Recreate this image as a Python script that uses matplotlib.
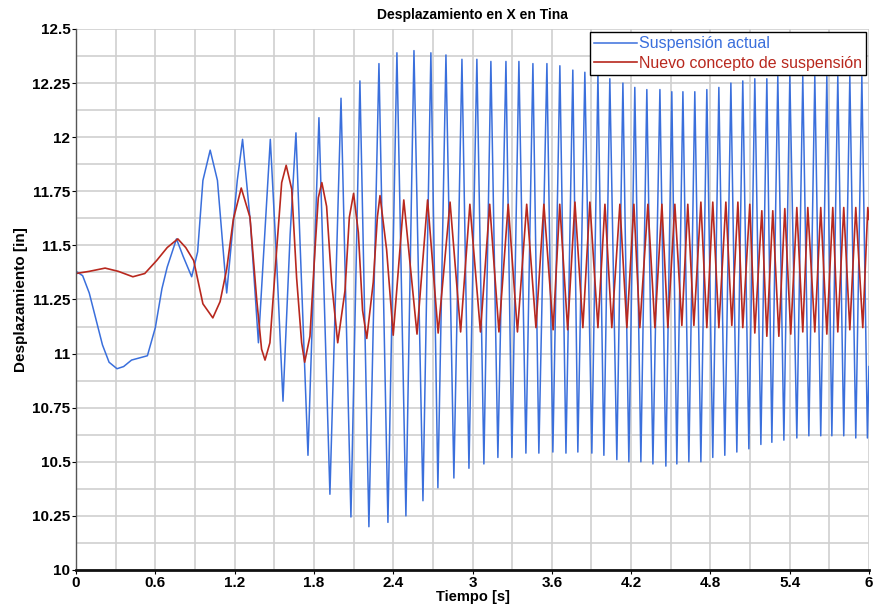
import matplotlib.pyplot as plt
from matplotlib.ticker import MultipleLocator

# Suspensión actual (blue): smooth start, then peaks / troughs
blue_t = [0.00, 0.05, 0.10, 0.15, 0.20, 0.25, 0.31, 0.36, 0.42, 0.48, 0.54, 0.60, 0.65,
          0.69, 0.76, 0.81, 0.875, 0.92, 0.96, 1.015, 1.07, 1.14, 1.22, 1.26, 1.32,
          1.38, 1.47, 1.52, 1.566,
          1.62, 1.664, 1.755, 1.838, 1.921, 2.005, 2.080, 2.148, 2.216, 2.292, 2.360,
          2.428, 2.496, 2.557, 2.625, 2.685, 2.738, 2.799, 2.859, 2.920, 2.973, 3.033,
          3.086, 3.139, 3.192, 3.253, 3.298, 3.351, 3.404, 3.457, 3.502, 3.563, 3.608,
          3.661, 3.707, 3.759, 3.797, 3.850, 3.903, 3.949, 3.994, 4.039, 4.092, 4.138,
          4.183, 4.228, 4.274, 4.319, 4.365, 4.418, 4.463, 4.508, 4.546, 4.592, 4.637,
          4.682, 4.728, 4.773, 4.818, 4.864, 4.909, 4.955, 5.000, 5.045, 5.091, 5.136,
          5.182, 5.227, 5.265, 5.310, 5.356, 5.401, 5.454, 5.499, 5.545, 5.590, 5.635,
          5.681, 5.719, 5.764, 5.809, 5.855, 5.900, 5.946, 5.988, 6.000]
blue_y = [11.38, 11.36, 11.28, 11.16, 11.04, 10.96, 10.93, 10.94, 10.97, 10.98, 10.99, 11.12, 11.30,
          11.40, 11.53, 11.45, 11.355, 11.47, 11.80, 11.94, 11.80, 11.28, 11.80, 11.99, 11.60,
          11.05, 11.99, 11.40, 10.78,
          11.55, 12.02, 10.53, 12.09, 10.35, 12.18, 10.245, 12.26, 10.20, 12.34, 10.22,
          12.39, 10.25, 12.40, 10.32, 12.39, 10.38, 12.38, 10.425, 12.36, 10.47, 12.36,
          10.49, 12.35, 10.52, 12.35, 10.52, 12.35, 10.54, 12.34, 10.54, 12.34, 10.545,
          12.33, 10.54, 12.31, 10.545, 12.30, 10.54, 12.29, 10.53, 12.27, 10.51, 12.25,
          10.50, 12.23, 10.50, 12.22, 10.49, 12.22, 10.48, 12.21, 10.49, 12.21, 10.50,
          12.21, 10.50, 12.22, 10.52, 12.23, 10.53, 12.25, 10.545, 12.26, 10.56, 12.27,
          10.58, 12.27, 10.59, 12.28, 10.60, 12.28, 10.61, 12.28, 10.62, 12.28, 10.62,
          12.28, 10.62, 12.28, 10.62, 12.28, 10.61, 12.28, 10.61, 10.94]

# Nuevo concepto de suspensión (red)
red_t = [0.00, 0.10, 0.22, 0.32, 0.43, 0.52, 0.61, 0.69, 0.77, 0.83, 0.89, 0.96, 1.035,
         1.09, 1.14, 1.19, 1.25, 1.316, 1.367, 1.404, 1.43, 1.467, 1.518, 1.556, 1.59,
         1.632, 1.669, 1.707, 1.73, 1.77, 1.808, 1.833, 1.86, 1.896, 1.934, 1.98,
         2.035, 2.068, 2.10, 2.136, 2.168, 2.20, 2.249, 2.28, 2.30, 2.35, 2.40,
         2.48, 2.58, 2.66, 2.74, 2.83, 2.91,
         2.98, 3.06, 3.13, 3.20, 3.27, 3.34, 3.41, 3.48, 3.54, 3.61, 3.66, 3.72, 3.775,
         3.835, 3.888, 3.949, 4.002, 4.054, 4.115, 4.168, 4.221, 4.266, 4.327, 4.380,
         4.433, 4.478, 4.531, 4.584, 4.629, 4.675, 4.728, 4.773, 4.818, 4.864, 4.917,
         4.962, 5.008, 5.045, 5.098, 5.136, 5.189, 5.227, 5.272, 5.318, 5.363, 5.408,
         5.454, 5.499, 5.537, 5.590, 5.635, 5.681, 5.726, 5.764, 5.809, 5.855, 5.900,
         5.953, 5.991, 6.000]
red_y = [11.37, 11.38, 11.395, 11.38, 11.355, 11.37, 11.43, 11.49, 11.53, 11.49, 11.43, 11.23, 11.165,
         11.24, 11.39, 11.62, 11.765, 11.63, 11.25, 11.02, 10.97, 11.05, 11.48, 11.79, 11.87,
         11.76, 11.35, 11.05, 10.96, 11.08, 11.48, 11.72, 11.79, 11.68, 11.33, 11.05,
         11.29, 11.63, 11.74, 11.56, 11.20, 11.07, 11.33, 11.63, 11.73, 11.48, 11.085,
         11.71, 11.09, 11.71, 11.095, 11.70, 11.10,
         11.69, 11.10, 11.69, 11.10, 11.69, 11.10, 11.69, 11.12, 11.69, 11.11, 11.69, 11.11, 11.70,
         11.12, 11.70, 11.12, 11.69, 11.12, 11.69, 11.12, 11.69, 11.12, 11.69, 11.12,
         11.69, 11.12, 11.69, 11.13, 11.69, 11.13, 11.70, 11.12, 11.70, 11.12, 11.70,
         11.13, 11.70, 11.12, 11.69, 11.095, 11.66, 11.08, 11.66, 11.08, 11.67, 11.09,
         11.675, 11.10, 11.675, 11.10, 11.675, 11.09, 11.675, 11.10, 11.675, 11.11, 11.675,
         11.12, 11.675, 11.62]

labels = ["Suspensión actual", "Nuevo concepto de suspensión"]
colors = ["#3a6fdc", "#b8281e"]


def plot_chart(output_path):
    plt.rcParams['font.family'] = ['Liberation Sans', 'DejaVu Sans']

    fig = plt.figure(figsize=(8.76, 6.10), dpi=100)
    ax = fig.add_axes([0.0868, 0.0656, 0.9052, 0.8869])

    ax.plot(blue_t, blue_y, color=colors[0], linewidth=1.1, label=labels[0])
    ax.plot(red_t, red_y, color=colors[1], linewidth=1.2, label=labels[1])

    ax.set_xlim(0, 6)
    ax.set_ylim(10, 12.5)
    ax.xaxis.set_major_locator(MultipleLocator(0.6))
    ax.xaxis.set_minor_locator(MultipleLocator(0.3))
    ax.yaxis.set_major_locator(MultipleLocator(0.25))
    ax.yaxis.set_minor_locator(MultipleLocator(0.125))
    ax.xaxis.set_major_formatter(plt.FuncFormatter(lambda v, p: f"{v:g}"))
    ax.yaxis.set_major_formatter(plt.FuncFormatter(lambda v, p: f"{v:g}"))

    ax.grid(True, which='both', color='#cfcfcf', linewidth=1.2)
    ax.set_axisbelow(True)

    for side in ['top', 'right']:
        ax.spines[side].set_visible(False)
    ax.spines['left'].set_color('#555555')
    ax.spines['left'].set_linewidth(1.0)
    ax.spines['bottom'].set_color('#111111')
    ax.spines['bottom'].set_linewidth(2.0)

    ax.tick_params(axis='both', which='major', length=3, width=0.8, labelsize=11, pad=1)
    ax.tick_params(axis='both', which='minor', length=0)
    for lab in ax.get_xticklabels() + ax.get_yticklabels():
        lab.set_fontweight('bold')

    ax.set_title("Desplazamiento en X en Tina", fontsize=10, fontweight='bold', pad=7)
    ax.set_xlabel("Tiempo [s]", fontsize=10.5, fontweight='bold', labelpad=0)
    ax.set_ylabel("Desplazamiento [in]", fontsize=11, fontweight='bold', labelpad=3)

    leg = ax.legend(loc='upper right', fontsize=11.5, frameon=True, fancybox=False,
                    framealpha=1.0, edgecolor='black', handlelength=2.7,
                    handletextpad=0.1, borderpad=0.25, labelspacing=0.3,
                    borderaxespad=0.2)
    leg.get_frame().set_linewidth(1.0)
    for text, c in zip(leg.get_texts(), colors):
        text.set_color(c)

    fig.savefig(output_path, dpi=100)


def main():
    plot_chart("out.png")


if __name__ == "__main__":
    main()
